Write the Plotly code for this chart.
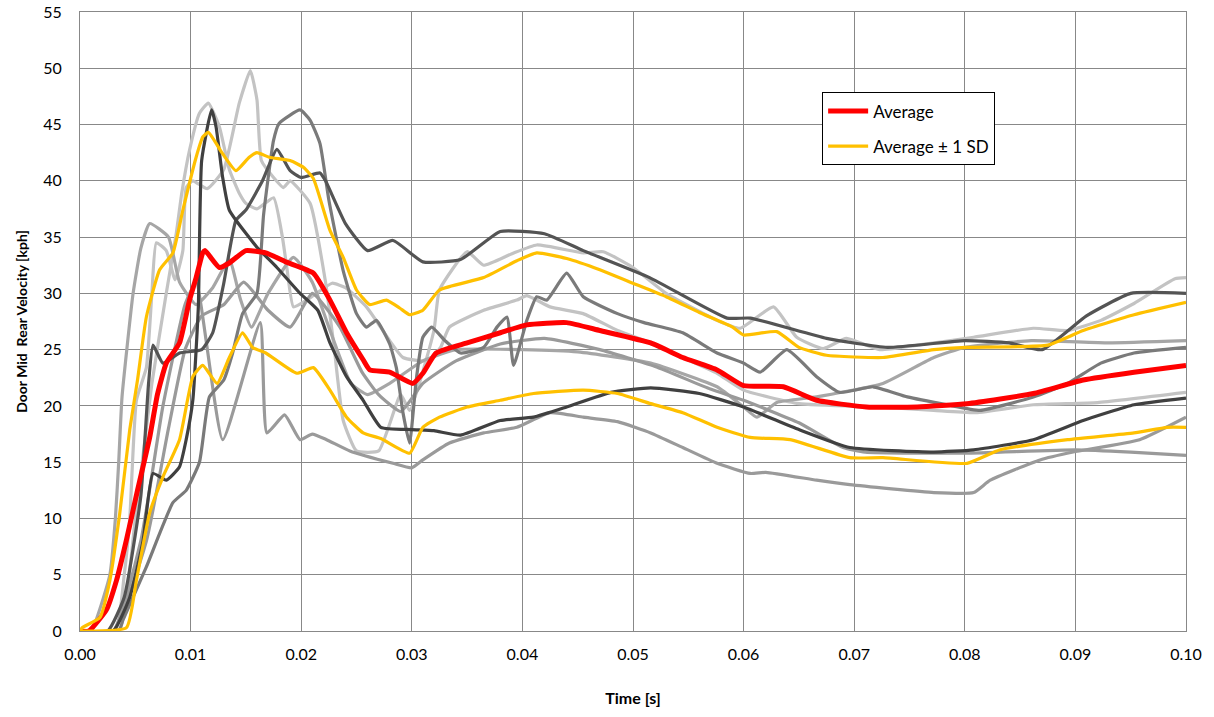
import plotly.graph_objects as go

# ---- data (time in ms, velocity in kph) ----
tA = [0, 3.2, 4.0, 4.5, 5.1, 6.0, 6.5, 6.9, 7.8, 8.6, 9.3, 9.6, 10.2, 11.5, 13.0, 14.4, 15.4, 16.0, 16.4, 17.5, 18.4, 19.0, 20.8, 22.2, 23.0, 23.8, 25.0, 27.0, 29.0, 29.8, 32.0, 32.5, 35.0, 36.5, 39.0, 41.3, 45.5, 47.3, 50.0, 53.0, 57.6, 59.7, 62.7, 64.8, 67.2, 69.3, 72.3, 75.7, 80.8, 86.2, 89.3, 92.3, 95.3, 99.0, 100]
vA = [0, 0, 5, 10, 20.5, 23.4, 30, 34.5, 33.8, 31.2, 33.8, 39.4, 40, 39.3, 41, 46.9, 49.8, 47.2, 41.8, 40.3, 39.4, 40, 38, 31, 25, 18.7, 16, 16, 21, 19.6, 26.7, 30.3, 33.7, 32.5, 33.5, 34.3, 33.6, 33.7, 32.3, 30, 27.6, 26.9, 28.8, 26.1, 25.1, 26, 25, 25.4, 26.1, 26.9, 26.7, 27.6, 29.1, 31.3, 31.4]

tB = [0, 2.5, 4.0, 5.5, 6.2, 6.6, 7.5, 9.0, 11.0, 12.0, 13.0, 14.1, 15.0, 16.5, 17.8, 19.0, 20.0, 21.7, 22.2, 24.0, 26.0, 28.3, 31.0, 34.4, 38.0, 42.0, 45.5, 51.5, 58.5, 60.6, 67.5, 73.0, 80.0, 84.0, 87.0, 91.0, 95.0, 100]
vB = [0, 0, 3, 12, 22, 25.4, 23.8, 24.7, 25, 26.5, 30.9, 36.5, 37.4, 40, 42.8, 40.9, 40.3, 40.7, 40, 36.2, 33.8, 34.7, 32.8, 33, 35.5, 35.3, 33.8, 31.4, 27.8, 27.8, 26, 25.2, 25.8, 25.6, 25, 28, 30, 30]

tC = [0, 3.0, 4.5, 5.7, 6.6, 7.8, 9.0, 9.6, 10.2, 10.7, 11.0, 11.9, 12.3, 12.9, 13.5, 14.1, 16.0, 17.8, 19.9, 21.5, 22.6, 24.1, 25.6, 27.2, 30.0, 32.0, 34.4, 38.0, 41.0, 44.0, 48.0, 51.6, 56.0, 60.0, 65.0, 69.6, 77.2, 80.8, 86.2, 90.7, 95.3, 100]
vC = [0, 0, 3, 8, 14, 13.4, 14.6, 17, 20.5, 28.8, 41.8, 46.3, 44.8, 40.3, 37.4, 36.5, 34.1, 32.3, 30, 28.5, 25.6, 22.6, 20.5, 18.1, 17.9, 17.8, 17.4, 18.7, 19, 19.9, 21.2, 21.6, 21.1, 19.9, 17.9, 16.3, 15.9, 16.1, 17, 18.7, 20.1, 20.7]

tD = [0, 3.5, 3.9, 6.0, 8.4, 9.6, 10.8, 11.7, 13.0, 13.8, 14.7, 16.0, 16.6, 17.5, 18.0, 19.9, 20.8, 21.7, 22.5, 23.8, 25.0, 25.9, 26.8, 28.0, 28.6, 29.2, 29.8, 30.4, 31.0, 31.8, 33.0, 34.4, 36.5, 37.7, 38.6, 39.2, 40.4, 41.3, 42.2, 44.0, 45.5, 48.6, 51.0, 54.5, 57.6, 60.0, 61.5, 63.9, 66.6, 68.7, 71.7, 74.8, 78.4, 81.4, 86.2, 89.3, 92.3, 95.3, 100]
vD = [0, 0, 1, 5.7, 11.4, 12.5, 15, 20.8, 22.3, 24.7, 28.2, 30, 37, 43.6, 45.1, 46.3, 45.4, 43.3, 38.3, 32, 28.2, 27, 27.6, 25.5, 23.4, 19.4, 16.7, 22.3, 26.1, 27, 25.8, 24.7, 25.2, 27, 27.9, 23.6, 27.6, 29.7, 29.4, 31.8, 29.7, 28.2, 27.4, 26.5, 24.7, 23.8, 23, 25, 22.6, 21.2, 21.7, 20.8, 20.1, 19.6, 20.8, 22, 23.8, 24.7, 25.2]

tE = [0, 3.5, 5.0, 6.5, 7.8, 8.7, 9.2, 9.9, 10.8, 11.6, 12.6, 13.5, 14.4, 15.0, 16.0, 17.5, 18.3, 18.7, 19.3, 20.5, 22.8, 24.0, 25.9, 28.0, 29.2, 31.4, 32.6, 33.4, 36.5, 39.5, 40.4, 42.5, 45.5, 48.6, 51.6, 54.5, 57.6, 60.0, 65.0, 72.3, 77.2, 81.0, 86.2, 92.0, 100]
vE = [0, 0, 10, 22, 30, 35.3, 38.9, 42.7, 46, 46.9, 44.8, 41, 38.9, 38, 37.5, 38.5, 35, 32.3, 28.8, 29.4, 30.9, 30.5, 28.8, 25.8, 24.3, 24, 25.2, 27, 28.5, 29.4, 29.8, 28.8, 28.2, 26.7, 25.6, 24.3, 22.9, 21.4, 20.2, 19.9, 19.6, 19.4, 20.1, 20.3, 21.2]

tG = [0, 1.0, 2.7, 3.2, 3.5, 3.8, 4.8, 5.5, 6.3, 8.0, 9.0, 10.5, 12.0, 13.5, 14.5, 15.5, 17.0, 19.3, 21.0, 22.5, 24.5, 26.0, 28.0, 31.0, 34.0, 40.0, 45.0, 51.6, 57.6, 60.0, 61.2, 63.0, 66.6, 72.6, 77.2, 80.0, 86.0, 93.0, 100]
vG = [0, 0, 5, 10, 15, 20.8, 30, 34, 36.2, 35, 31, 29, 30.5, 33, 29.5, 27, 30, 33.2, 31, 27, 22, 21, 22, 24, 25, 25, 24.8, 23.8, 21.7, 19.9, 19, 20.3, 20.8, 22, 24.3, 25.2, 25.8, 25.6, 25.8]

tH = [0, 3.0, 6.0, 8.0, 9.5, 11.0, 13.0, 14.8, 17.0, 19.0, 21.0, 23.5, 25.5, 27.0, 29.0, 31.0, 34.0, 38.0, 42.0, 47.0, 52.0, 57.0, 60.0, 65.0, 69.0, 71.0, 80.0, 90.0, 95.0, 100]
vH = [0, 0, 8, 18, 25, 28, 29, 31, 28.5, 27, 30, 27, 23, 21, 19.5, 22, 24, 25.5, 26, 25, 23.5, 21.5, 20.5, 18.5, 16.3, 15.9, 15.8, 16.1, 15.9, 15.6]

tI = [0, 3.0, 5.5, 7.5, 9.5, 10.5, 12.9, 16.3, 16.9, 18.5, 19.9, 21.0, 22.3, 24.4, 28.3, 30.0, 31.0, 33.4, 36.5, 39.5, 42.5, 45.5, 48.6, 51.6, 54.5, 57.6, 60.6, 62.0, 66.6, 69.6, 77.2, 80.8, 82.3, 86.8, 89.8, 95.8, 100]
vI = [0, 0, 8, 20, 29, 31, 17, 27.4, 17.6, 19.2, 17, 17.5, 17, 16, 14.9, 14.5, 15.2, 16.7, 17.6, 18.1, 19.4, 19, 18.6, 17.6, 16.3, 14.9, 14, 14.1, 13.4, 13, 12.3, 12.3, 13.4, 15.2, 15.9, 17, 19]

t_avg = [0, 0.8, 2.4, 3.3, 4.2, 5.2, 6.3, 7.0, 7.8, 9.0, 9.9, 10.5, 11.1, 11.3, 12.6, 13.5, 15.0, 16.8, 18.6, 21.1, 22.6, 24.1, 25.6, 26.2, 28.0, 30.1, 31.0, 32.2, 35.0, 38.0, 40.4, 44.0, 47.0, 51.6, 54.5, 57.6, 60.0, 63.6, 66.6, 71.1, 75.7, 80.2, 86.2, 90.7, 95.3, 100]
v_avg = [0, 0, 1.9, 4.5, 8.1, 12.5, 17.2, 21, 23.8, 25.6, 29.4, 31.4, 33.6, 33.8, 32.3, 32.7, 33.8, 33.6, 32.8, 31.8, 29.4, 26.5, 24.1, 23.2, 23, 22, 22.9, 24.7, 25.6, 26.5, 27.2, 27.4, 26.7, 25.6, 24.3, 23.2, 21.8, 21.7, 20.5, 19.9, 19.9, 20.2, 21.1, 22.3, 23, 23.6]

t_up = [0, 0.2, 1.8, 2.7, 3.6, 4.5, 5.2, 6.0, 7.2, 8.4, 9.3, 10.5, 11.1, 11.6, 12.9, 14.1, 15.3, 16.0, 17.1, 19.0, 20.2, 21.1, 22.6, 23.8, 25.0, 26.2, 27.7, 28.9, 29.8, 31.0, 32.5, 36.5, 39.5, 41.3, 44.0, 47.0, 50.0, 53.0, 56.0, 59.0, 60.0, 63.0, 65.0, 67.5, 72.6, 77.2, 80.2, 87.5, 90.7, 95.3, 100]
v_up = [0, 0.3, 1.2, 4.5, 10.5, 17.9, 22.3, 27.9, 32.1, 33.6, 37.4, 42.1, 43.9, 44.3, 42.4, 40.9, 42.1, 42.5, 42.1, 41.8, 41.2, 40.2, 35.6, 33.2, 30.3, 29, 29.4, 28.7, 28.1, 28.5, 30.3, 31.4, 32.9, 33.6, 33.1, 32.1, 30.9, 29.7, 28.3, 27, 26.3, 26.6, 25.2, 24.5, 24.3, 25, 25.2, 25.4, 26.7, 28.1, 29.2]

t_lo = [0, 4.2, 5.1, 6.3, 7.5, 9.0, 10.2, 11.1, 12.4, 13.5, 14.7, 15.6, 16.8, 19.6, 21.1, 22.6, 24.1, 25.6, 27.2, 29.8, 31.0, 32.5, 35.0, 38.0, 41.0, 45.5, 48.6, 51.6, 54.5, 57.6, 60.6, 64.2, 69.6, 72.6, 80.2, 83.2, 89.3, 95.3, 98.3, 100]
v_lo = [0, 0.3, 4.5, 10.5, 13.7, 17, 22.6, 23.6, 22, 24.3, 26.5, 25.2, 24.7, 22.9, 23.4, 21.4, 19, 17.6, 17.1, 15.8, 18.1, 19, 19.9, 20.5, 21.1, 21.4, 21.1, 20.2, 19.4, 18.1, 17.2, 17, 15.4, 15.4, 14.9, 16.1, 17, 17.6, 18.1, 18.1]

grey_series = [
    (tA, vA, "#c3c3c3"),
    (tE, vE, "#c3c3c3"),
    (tG, vG, "#a6a6a6"),
    (tH, vH, "#9a9a9a"),
    (tI, vI, "#9a9a9a"),
    (tD, vD, "#7a7a7a"),
    (tB, vB, "#545454"),
    (tC, vC, "#404040"),
]

FONT = "Lato"
SM = 0.45
fig = go.Figure()

def sec(ms):
    return [m / 1000.0 for m in ms]

for t, v, c in grey_series:
    fig.add_trace(go.Scatter(x=sec(t), y=v, mode="lines", showlegend=False, hoverinfo="skip",
                             line=dict(color=c, width=3.2, shape="spline", smoothing=SM)))

fig.add_trace(go.Scatter(x=sec(t_avg), y=v_avg, mode="lines", name="Average", legendgroup="a",
                         line=dict(color="#ff0000", width=5, shape="spline", smoothing=SM)))
fig.add_trace(go.Scatter(x=sec(t_up), y=v_up, mode="lines", name="Average \u00b1 1 SD", legendgroup="b",
                         line=dict(color="#ffc000", width=3.2, shape="spline", smoothing=SM)))
fig.add_trace(go.Scatter(x=sec(t_lo), y=v_lo, mode="lines", name="Average \u00b1 1 SD", legendgroup="b",
                         showlegend=False,
                         line=dict(color="#ffc000", width=3.2, shape="spline", smoothing=SM)))

axis_common = dict(showgrid=True, gridcolor="#888888", gridwidth=1, showline=True, linecolor="#888888",
                   linewidth=1, mirror=True, zeroline=False, ticks="", automargin=False,
                   tickfont=dict(family=FONT, size=16, color="#000000"))

fig.update_xaxes(range=[0, 0.1], dtick=0.01, tick0=0, tickformat=".2f", ticklabelstandoff=9,
                 title=dict(text="<b>Time [s]</b>", font=dict(family=FONT, size=16, color="#000"), standoff=30),
                 **axis_common)
fig.update_yaxes(range=[0, 55], dtick=5, tick0=0, ticklabelstandoff=14,
                 title=dict(text="<b>Door Mid  Rear Velocity [kph]</b>", font=dict(family=FONT, size=14, color="#000"), standoff=12),
                 **axis_common)

fig.update_layout(
    width=1214, height=717,
    margin=dict(l=80, r=28, t=12, b=86, autoexpand=False),
    plot_bgcolor="#ffffff", paper_bgcolor="#ffffff",
    font=dict(family=FONT, size=15, color="#000"),
    legend=dict(x=0.671, y=0.870, xanchor="left", yanchor="top", bgcolor="#ffffff",
                bordercolor="#000000", borderwidth=1, font=dict(family=FONT, size=17, color="#000"),
                traceorder="grouped", tracegroupgap=10, itemwidth=40),
)

fig.write_html("out.html")
